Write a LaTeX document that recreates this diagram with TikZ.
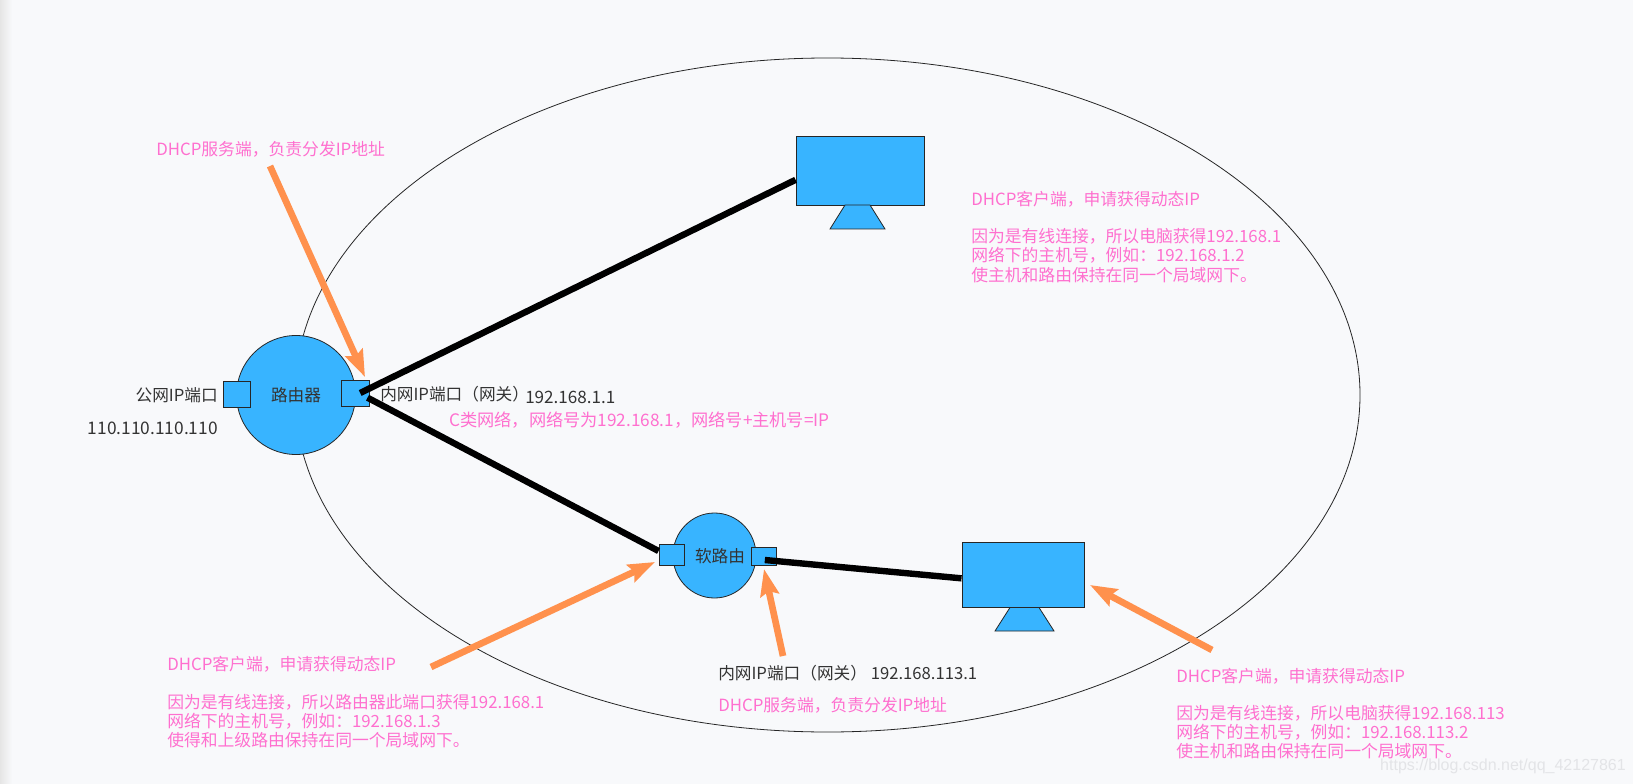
\documentclass[tikz,border=0pt]{standalone}
\usepackage{fontspec}
\setmainfont{Noto Sans CJK SC}
\newfontfamily\wmfont{Liberation Sans}
\usetikzlibrary{shapes.geometric,arrows.meta}
\definecolor{bgc}{HTML}{F8F9FB}
\definecolor{fillc}{HTML}{38B4FF}
\definecolor{pinkc}{HTML}{FF6FCF}
\definecolor{orangec}{HTML}{FF914D}
\definecolor{inkc}{HTML}{333333}
\definecolor{wmc}{HTML}{E3E4E7}
\tikzset{
  x=0.75pt,y=-0.75pt,
  oval/.style={draw=black!85,line width=0.6pt,ellipse,inner sep=0pt,fill=fillc},
  ring/.style={draw=black!85,line width=0.6pt,ellipse,inner sep=0pt},
  port/.style={draw=black!85,line width=0.7pt,rectangle,inner sep=0pt,fill=fillc},
  screen/.style={draw=black!85,line width=0.7pt,rectangle,inner sep=0pt,fill=fillc},
  standshape/.style={draw=black!85,line width=0.6pt,fill=fillc},
  wire/.style={draw=black,line width=4.8pt},
  pointer/.style={draw=orangec,line width=5pt,-{Stealth[length=20pt,width=14pt,inset=3pt]}},
  pinktext/.style={text=pinkc,font=\fontsize{12.6}{14.4}\selectfont,anchor=west,inner sep=0pt,align=left},
  darktext/.style={text=inkc,font=\fontsize{12.5}{14.4}\selectfont,inner sep=0pt},
}
\begin{document}
\begin{tikzpicture}
\fill[bgc] (0,0) rectangle (1633,784);
\useasboundingbox (0,0) rectangle (1633,784);
\shade[left color=black!10,right color=bgc,draw=none] (0,0) rectangle (12,784);

\node[ring,minimum width=1065*0.75pt,minimum height=674*0.75pt] (big) at (827.5,395) {};

\node[screen,minimum width=128*0.75pt,minimum height=69*0.75pt] (mon1) at (860,170.5) {};
\path[standshape] (845,205) -- (870,205) -- (885,229) -- (830,229) -- cycle;
\node[screen,minimum width=122*0.75pt,minimum height=65*0.75pt] (mon2) at (1023,575) {};
\path[standshape] (1010,607.5) -- (1039,607.5) -- (1054,631) -- (995,631) -- cycle;

\node[oval,minimum width=119*0.75pt,minimum height=119*0.75pt] (router) at (296,395) {};
\node[darktext] (routerlab) at (296,395) {路由器};
\node[port,minimum width=27*0.75pt,minimum height=26*0.75pt] (wan) at (236.5,394) {};
\node[port,minimum width=28*0.75pt,minimum height=26*0.75pt] (lan) at (355.5,393) {};

\node[oval,minimum width=83*0.75pt,minimum height=85*0.75pt] (soft) at (714.5,555.5) {};
\node[darktext] (softlab) at (720,556) {软路由};
\node[port,minimum width=25*0.75pt,minimum height=21*0.75pt] (softin) at (671.5,555) {};
\node[port,minimum width=25*0.75pt,minimum height=18*0.75pt] (softout) at (763.5,556) {};

\draw[wire] ([xshift=3.5pt,yshift=0pt]lan.center) -- ([yshift=-7pt]mon1.west);
\draw[wire] ([xshift=9pt,yshift=-3.5pt]lan.center) -- ([yshift=3pt]softin.west);
\draw[wire] ([xshift=1pt,yshift=-3pt]softout.center) -- ([yshift=-2.5pt]mon2.west);

\coordinate (a1s) at (270,166);
\coordinate (a1e) at (365,377);
\coordinate (a2s) at (431,667);
\coordinate (a2e) at (655,562);
\coordinate (a3s) at (783,656);
\coordinate (a3e) at (764,569);
\coordinate (a4s) at (1212,650);
\coordinate (a4e) at (1090,585);
\draw[pointer] (a1s) -- (a1e);
\draw[pointer] (a2s) -- (a2e);
\draw[pointer] (a3s) -- (a3e);
\draw[pointer] (a4s) -- (a4e);

\node[pinktext] (t1) at (156,149) {DHCP服务端，负责分发IP地址};
\node[pinktext] (t2) at (971,199) {DHCP客户端，申请获得动态IP};
\node[pinktext] (t3) at (971,255.5) {因为是有线连接，所以电脑获得192.168.1\\网络下的主机号，例如：192.168.1.2\\使主机和路由保持在同一个局域网下。};
\node[darktext,anchor=east] (t4) at (218,395) {公网IP端口};
\node[darktext,anchor=east,font=\fontsize{13}{14.4}\selectfont] (t5) at (218,428) {110.110.110.110};
\node[darktext,anchor=west] (t6) at (380,394) {内网IP端口（网关）};
\node[darktext,anchor=west,font=\fontsize{12.8}{14.4}\selectfont] (t7) at (525,397) {192.168.1.1};
\node[pinktext,font=\fontsize{12.9}{14.4}\selectfont] (t8) at (449,420) {C类网络，网络号为192.168.1，网络号+主机号=IP};
\node[pinktext] (t9) at (167,664) {DHCP客户端，申请获得动态IP};
\node[pinktext] (t10) at (167,721) {因为是有线连接，所以路由器此端口获得192.168.1\\网络下的主机号，例如：192.168.1.3\\使得和上级路由保持在同一个局域网下。};
\node[darktext,anchor=west] (t11) at (718,673) {内网IP端口（网关） 192.168.113.1};
\node[pinktext] (t12) at (718,705) {DHCP服务端，负责分发IP地址};
\node[pinktext] (t13) at (1176,676) {DHCP客户端，申请获得动态IP};
\node[pinktext] (t14) at (1176,732) {因为是有线连接，所以电脑获得192.168.113\\网络下的主机号，例如：192.168.113.2\\使主机和路由保持在同一个局域网下。};
\node[text=wmc,font=\wmfont\fontsize{12}{14}\selectfont,anchor=east,inner sep=0pt] (wm) at (1626,766) {https://blog.csdn.net/qq\_42127861};
\end{tikzpicture}
\end{document}
